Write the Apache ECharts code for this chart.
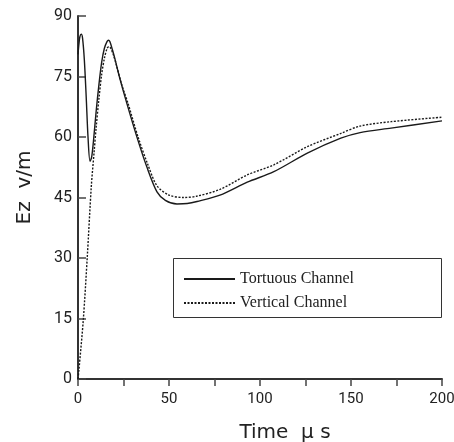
<!DOCTYPE html>
<html>
<head>
    <meta charset="utf-8">
    <title>Ez field</title>
    <script src="https://cdn.jsdelivr.net/npm/echarts@6/dist/echarts.min.js"></script>
</head>
<body style="margin:0">
<div id="main" style="width: 454px;height:442px;"></div>
<script type="text/javascript">
    // time (us) and field values (V/m)
    var tortuousTime = [0, 0.5, 1, 1.8, 2.5, 3.5, 4.5, 5.5, 6.6, 7.5, 8.5, 10, 11.5, 13, 14.5, 16, 16.7, 17.5, 19, 20.5, 23, 26.8, 32.3, 37.8, 43.4, 48, 54.4, 60, 65.4, 78, 93, 107.6, 126, 144.4, 155, 172, 200];
    var tortuousEz = [80.5, 83, 84.8, 85.5, 84.5, 79, 70, 60, 54, 55, 59, 66.5, 73, 78.5, 82, 83.7, 84, 83.7, 81.5, 79, 74.5, 68.4, 60.1, 52.6, 46.4, 44.3, 43.4, 43.5, 44, 45.6, 48.8, 51.4, 56, 59.7, 61.1, 62.2, 64];

    var verticalTime = [0, 0.5, 2.9, 5.1, 7.3, 8.8, 10, 11.5, 13, 14.5, 16, 17, 18, 19.5, 21, 24, 27.5, 33, 38.5, 43.4, 50, 58, 65, 78, 93, 107.6, 126, 144.4, 155, 172, 200];
    var verticalEz = [0, 2.2, 14.6, 30.3, 47.7, 56, 62.5, 69.5, 75.5, 79.5, 82, 82.4, 82, 80.3, 78, 73, 68.3, 60, 53, 47.9, 45.6, 45, 45.3, 47, 50.6, 53.1, 57.6, 60.9, 62.7, 63.8, 64.9];

    var seriesNames = ['Tortuous Channel', 'Vertical Channel'];

    function pairs(xs, ys) {
        var out = [];
        for (var i = 0; i < xs.length; i++) {
            out.push([xs[i], ys[i]]);
        }
        return out;
    }

    var myChart = echarts.init(document.getElementById('main'));
    var axisFont = 'DejaVu Sans';
    var tickFont = 'Roboto';

    var option = {
        animation: false,
        backgroundColor: '#fff',
        grid: {
            left: 78,
            right: 12,
            top: 16,
            bottom: 63,
            containLabel: false,
            outerBoundsMode: 'none'
        },
        legend: {
            orient: 'vertical',
            left: 183,
            top: 271,
            padding: 0,
            itemWidth: 51,
            itemHeight: 14,
            itemGap: 8,
            data: seriesNames,
            itemStyle: {opacity: 0},
            textStyle: {
                fontFamily: 'Liberation Serif',
                fontSize: 16,
                color: '#222'
            }
        },
        graphic: [{
            type: 'rect',
            shape: {x: 173.5, y: 258.5, width: 268, height: 59},
            style: {fill: 'none', stroke: '#333', lineWidth: 1}
        }],
        xAxis: {
            type: 'value',
            min: 0,
            max: 200,
            interval: 25,
            name: 'Time  \u03bc s',
            nameLocation: 'middle',
            nameGap: 44,
            nameTextStyle: {
                fontFamily: axisFont,
                fontSize: 20,
                color: '#222',
                padding: [0, 0, 0, 50]
            },
            axisLine: {lineStyle: {color: '#333', width: 2}},
            axisTick: {inside: false, length: 7, lineStyle: {color: '#444', width: 1.5}},
            axisLabel: {
                margin: 13,
                fontFamily: tickFont,
                fontSize: 15,
                color: '#222',
                formatter: function (v) {
                    return v % 50 === 0 ? String(v) : '';
                }
            },
            splitLine: {show: false}
        },
        yAxis: {
            type: 'value',
            min: 0,
            max: 90,
            interval: 15,
            name: 'Ez  v/m',
            nameLocation: 'middle',
            nameGap: 43,
            nameTextStyle: {
                fontFamily: axisFont,
                fontSize: 20,
                color: '#222',
                padding: [0, 0, 0, 20]
            },
            axisLine: {show: true, lineStyle: {color: '#333', width: 2}},
            axisTick: {show: true, inside: true, length: 8, lineStyle: {color: '#444', width: 1.5}},
            axisLabel: {
                margin: 6,
                fontFamily: tickFont,
                fontSize: 16,
                color: '#222'
            },
            splitLine: {show: false}
        },
        series: [{
            name: seriesNames[0],
            type: 'line',
            symbol: 'none',
            smooth: 0.3,
            lineStyle: {color: '#1a1a1a', width: 1.4, type: 'solid'},
            itemStyle: {color: '#1a1a1a'},
            data: pairs(tortuousTime, tortuousEz)
        }, {
            name: seriesNames[1],
            type: 'line',
            symbol: 'none',
            smooth: 0.3,
            lineStyle: {color: '#1a1a1a', width: 1.4, type: [2, 1.5]},
            itemStyle: {color: '#1a1a1a'},
            data: pairs(verticalTime, verticalEz)
        }]
    };

    myChart.setOption(option);
</script>
</body>
</html>
